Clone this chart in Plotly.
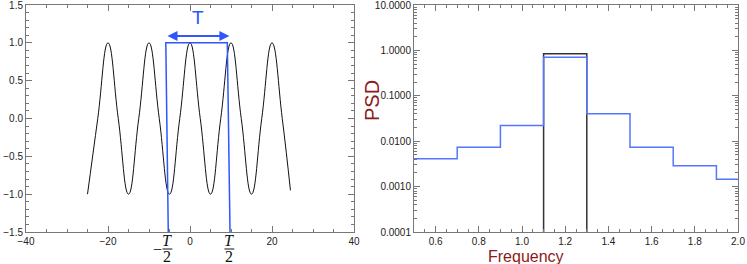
import plotly.graph_objects as go

# left panel: the sinusoid, read at its peaks, troughs and zero crossings
wave_t = [-25.0, -22.5, -20.0, -17.5, -15.0, -12.5, -10.0, -7.5, -5.0, -2.5, 0.0,
          2.5, 5.0, 7.5, 10.0, 12.5, 15.0, 17.5, 20.0, 22.5, 24.5]
wave_y = [-1.0, 0.0, 1.0, 0.0, -1.0, 0.0, 1.0, 0.0, -1.0, 0.0, 1.0,
          0.0, -1.0, 0.0, 1.0, 0.0, -1.0, 0.0, 1.0, 0.0, -0.95]

# the blue window marking one period T
window_t = [-5.3, -5.9, 9.1, 9.76]
window_y = [-1.5, 1.0, 1.0, -1.5]
arrow_t = [-5.85, 9.6]
arrow_y = 1.09

# right panel: PSD histograms on frequency bins
bin_edges = [0.5, 0.7, 0.9, 1.1, 1.3, 1.5, 1.7, 1.9, 2.1]
psd_window = [0.0041, 0.0074, 0.0223, 0.71, 0.040, 0.0074, 0.00287, 0.00146]
psd_true = [1e-9, 1e-9, 1e-9, 0.84, 1e-9, 1e-9, 1e-9, 1e-9]

BLUE = "#2f55ff"
BLUE2 = "#5577ff"
RED = "#8b1a1a"
FONT = "Liberation Sans"

fig = go.Figure()

fig.add_trace(
    go.Scatter(
        x=wave_t, y=wave_y, mode="lines",
        line=dict(color="#111111", width=1, shape="spline", smoothing=1.3),
        xaxis="x", yaxis="y"
    )
)

fig.add_trace(
    go.Scatter(
        x=window_t, y=window_y, mode="lines",
        line=dict(color=BLUE, width=1.5),
        xaxis="x", yaxis="y", cliponaxis=False
    )
)

fig.add_trace(
    go.Scatter(
        x=bin_edges, y=psd_true + [psd_true[-1]], mode="lines",
        line=dict(color="#333333", width=1.5, shape="hv"),
        xaxis="x2", yaxis="y2"
    )
)

fig.add_trace(
    go.Scatter(
        x=bin_edges, y=psd_window + [psd_window[-1]], mode="lines",
        line=dict(color=BLUE2, width=1.5, shape="hv"),
        xaxis="x2", yaxis="y2"
    )
)

axis_style = dict(
    showgrid=False, zeroline=False, automargin=False,
    showline=True, linecolor="#777777", linewidth=1, mirror="ticks",
    ticks="inside", ticklen=6, tickcolor="#777777",
    ticklabeloverflow="allow",
    tickfont=dict(family=FONT, size=10, color="#222222")
)

fig.update_layout(
    width=747, height=264,
    margin=dict(l=0, r=0, t=0, b=0),
    paper_bgcolor="white", plot_bgcolor="white",
    showlegend=False,
    xaxis=dict(
        domain=[26 / 747, 354 / 747], range=[-40, 40],
        tick0=-40, dtick=20,
        minor=dict(dtick=5, ticks="inside", ticklen=3, tickcolor="#777777"),
        anchor="y", **axis_style
    ),
    yaxis=dict(
        domain=[32 / 264, 259 / 264], range=[-1.5, 1.5],
        tick0=-1.5, dtick=0.5, tickformat=".1f",
        minor=dict(dtick=0.1, ticks="inside", ticklen=3, tickcolor="#777777"),
        anchor="x", **axis_style
    ),
    xaxis2=dict(
        domain=[414 / 747, 738 / 747], range=[0.5, 2.0],
        tick0=0, dtick=0.2, tickformat=".1f",
        minor=dict(dtick=0.05, ticks="inside", ticklen=3, tickcolor="#777777"),
        anchor="y2", **axis_style
    ),
    yaxis2=dict(
        domain=[32 / 264, 259 / 264], type="log", range=[-4, 1],
        dtick=1, tickformat=".4f",
        minor=dict(dtick="D1", ticks="inside", ticklen=3, tickcolor="#777777"),
        anchor="x2", **axis_style
    )
)

# double arrow over the window and its label
fig.add_annotation(
    x=arrow_t[1], y=arrow_y, ax=arrow_t[0], ay=arrow_y,
    xref="x", yref="y", axref="x", ayref="y",
    text="", showarrow=True, arrowside="end+start",
    arrowhead=2, arrowsize=1, arrowwidth=2, arrowcolor=BLUE
)
fig.add_annotation(
    x=2.0, y=1.34, xref="x", yref="y", text="T", showarrow=False,
    font=dict(family=FONT, size=19, color=BLUE)
)

# -T/2 and T/2 below the axis
for xc, sign in [(-5.5, True), (9.6, False)]:
    fig.add_annotation(
        x=xc, y=(264 - 240) / 264, xref="x", yref="paper", yanchor="middle",
        text="<i>T</i>", showarrow=False,
        font=dict(family="Liberation Serif", size=16, color="#111111")
    )
    fig.add_annotation(
        x=xc, y=(264 - 256) / 264, xref="x", yref="paper", yanchor="middle",
        text="2", showarrow=False,
        font=dict(family="Liberation Serif", size=16, color="#111111")
    )
    fig.add_shape(
        type="line", xref="x", yref="paper",
        x0=xc - 1.2, x1=xc + 1.2, y0=(264 - 249) / 264, y1=(264 - 249) / 264,
        line=dict(color="#111111", width=1)
    )
    if sign:
        fig.add_annotation(
            x=xc - 2.5, y=(264 - 249) / 264, xref="x", yref="paper",
            yanchor="middle", text="−", showarrow=False,
            font=dict(family="Liberation Serif", size=16, color="#111111")
        )

# axis titles of the PSD panel
fig.add_annotation(
    x=566 / 747, y=(264 - 256) / 264, xref="paper", yref="paper",
    text="Frequency", showarrow=False, yanchor="middle",
    font=dict(family=FONT, size=16, color=RED)
)
fig.add_annotation(
    x=372 / 747, y=(264 - 101) / 264, xref="paper", yref="paper",
    text="PSD", showarrow=False, textangle=-90,
    font=dict(family=FONT, size=20, color=RED)
)

fig.write_html(
    "out.html",
    config={"displayModeBar": False},
    post_script="document.body.style.margin='0px';document.body.style.overflow='hidden';"
)
